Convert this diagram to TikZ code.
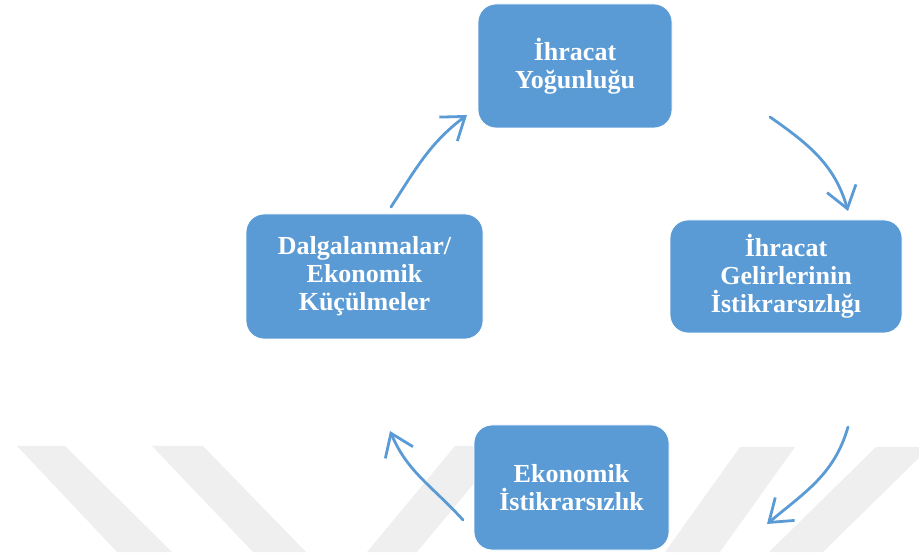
\documentclass[tikz,border=0pt]{standalone}
\usepackage{fontspec}
\setmainfont{Liberation Serif}
\usetikzlibrary{arrows.meta}
\definecolor{boxblue}{RGB}{91,155,213}
\definecolor{markgray}{RGB}{239,239,239}
\tikzset{
  cyclebox/.style={rectangle, rounded corners=18pt, fill=boxblue, draw=white, line width=0.8pt,
    text=white, align=center, inner sep=2pt,
    font=\bfseries\fontsize{26}{28}\selectfont},
  cyclearrow/.style={draw=boxblue, line width=2.8pt, line cap=round,
    -{Straight Barb[length=21pt,width=30pt,line width=2.8pt]}},
  stripe/.style={fill=markgray, draw=none}
}
\begin{document}
\begin{tikzpicture}[x=1pt,y=1pt]
\useasboundingbox (0,0) rectangle (919,552);
\begin{scope}
\clip (0,0) rectangle (919,552);
% light background stripes along the lower edge
\fill[stripe] (17,106) -- (65,106) -- (172,0) -- (117,0) -- cycle;
\fill[stripe] (152,106) -- (203,106) -- (306,0) -- (253,0) -- cycle;
\fill[stripe] (455,106) -- (505,106) -- (417,0) -- (367,0) -- cycle;
\fill[stripe] (740,105) -- (795,105) -- (720,0) -- (665,0) -- cycle;
\fill[stripe] (876,105) -- (930,105) -- (823,0) -- (769,0) -- cycle;
\end{scope}

% cycle steps
\node[cyclebox, minimum width=194pt, minimum height=124pt] (yog) at (575,486)
  {İhracat\\Yoğunluğu};
\node[cyclebox, minimum width=232pt, minimum height=113pt] (gel) at (786,275.5)
  {İhracat\\Gelirlerinin\\İstikrarsızlığı};
\node[cyclebox, minimum width=195pt, minimum height=125pt] (eko) at (571.5,64.5)
  {Ekonomik\\İstikrarsızlık};
\node[cyclebox, minimum width=237pt, minimum height=125pt] (dal) at (364.5,275.5)
  {Dalgalanmalar/\\Ekonomik\\Küçülmeler};

% arrow end points between the steps
\coordinate (a1s) at (770,435);
\coordinate (a1e) at (848,341);
\coordinate (a2s) at (848,125);
\coordinate (a2e) at (767,28);
\coordinate (a3s) at (463,32);
\coordinate (a3e) at (390,121);
\coordinate (a4s) at (391,345);
\coordinate (a4e) at (467,437);

\draw[cyclearrow] (a1s) to[out=-35,in=106] (a1e);
\draw[cyclearrow] (a2s) to[out=-106,in=40] (a2e);
\draw[cyclearrow] (a3s) to[out=132,in=-67] (a3e);
\draw[cyclearrow] (a4s) to[out=57,in=-143] (a4e);
\end{tikzpicture}
\end{document}
